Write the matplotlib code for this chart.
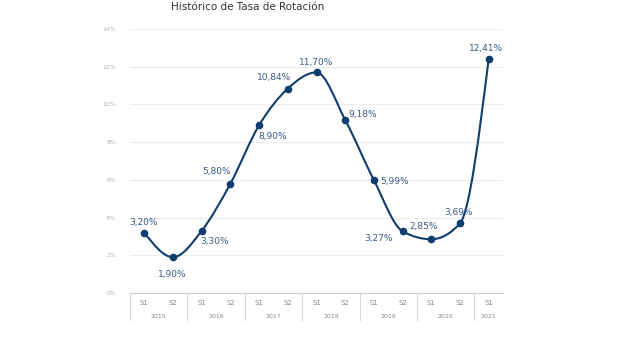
import matplotlib
matplotlib.use("Agg")
import matplotlib.pyplot as plt
import numpy as np
from matplotlib.path import Path
from matplotlib.patches import PathPatch
import matplotlib.transforms as mtransforms

# data
years = ["2015", "2016", "2017", "2018", "2019", "2020", "2021"]
periods = ["S1", "S2", "S1", "S2", "S1", "S2", "S1", "S2", "S1", "S2", "S1", "S2", "S1"]
rates = [3.20, 1.90, 3.30, 5.80, 8.90, 10.84, 11.70, 9.18, 5.99, 3.27, 2.85, 3.69, 12.41]
year_sizes = [2, 2, 2, 2, 2, 2, 1]

# label offsets in pixels (dx, dy)
offsets = [(-1, 10), (-1, -17), (13, -11), (-14, 12), (14, -11), (-14, 11),
           (0, 10), (17, 5), (21, -1), (-24, -7), (-8, 13), (-1, 11), (-3, 10)]

line_col = "#0f3d6e"
lab_col = "#3b5b85"

fig = plt.figure(figsize=(6.4, 3.38), dpi=100)
ax = fig.add_axes([130 / 640, 1 - 293 / 338, 373 / 640, 264 / 338])

x = np.arange(len(rates), dtype=float)
y = np.array(rates)

# monotone-x smoothing, like d3.curveMonotoneX
n = len(x)
h = np.diff(x)
s = np.diff(y) / h
tan = np.zeros(n)
for i in range(1, n - 1):
    s0, s1 = s[i - 1], s[i]
    p = (s0 * h[i] + s1 * h[i - 1]) / (h[i - 1] + h[i])
    tan[i] = (np.sign(s0) + np.sign(s1)) * min(abs(s0), abs(s1), 0.5 * abs(p))
tan[0] = (3 * s[0] - tan[1]) / 2
tan[-1] = (3 * s[-1] - tan[-2]) / 2

verts = [(x[0], y[0])]
codes = [Path.MOVETO]
for i in range(n - 1):
    dx = h[i] / 3
    verts += [(x[i] + dx, y[i] + dx * tan[i]), (x[i + 1] - dx, y[i + 1] - dx * tan[i + 1]),
              (x[i + 1], y[i + 1])]
    codes += [Path.CURVE4] * 3
ax.add_patch(PathPatch(Path(verts, codes), fill=False, edgecolor=line_col, lw=1.5, zorder=3))
ax.plot(x, y, "o", color=line_col, ms=4.5, zorder=4)

for xi, yi, (ddx, ddy) in zip(x, y, offsets):
    lab = ("%.2f" % yi).replace(".", ",") + "%"
    ax.annotate(lab, (xi, yi), xytext=(ddx, ddy), textcoords="offset pixels",
                ha="center", va="center", fontsize=6.5, color=lab_col)

ax.set_xlim(-0.5, 12.5)
ax.set_ylim(0, 14)
ax.set_yticks(np.arange(0, 15, 2))
ax.set_yticklabels([f"{v}%" for v in range(0, 15, 2)], fontsize=4.5, color="#b0b0b0")
ax.tick_params(axis="y", length=0, pad=10)
ax.set_xticks([])
ax.grid(axis="y", color="#ececec", lw=0.8)
ax.set_axisbelow(True)
for sp in ["top", "right", "left"]:
    ax.spines[sp].set_visible(False)
ax.spines["bottom"].set_color("#d0d0d0")
ax.spines["bottom"].set_linewidth(0.8)

trans = mtransforms.blended_transform_factory(ax.transData, ax.transAxes)
px = 1 / 264
for xi, p in zip(x, periods):
    ax.text(xi, -10 * px, p, transform=trans, ha="center", va="center",
            fontsize=5, color="#888888")
start = -0.5
ax.plot([start, start], [0, -27 * px], transform=trans, color="#d8d8d8", lw=0.8, clip_on=False)
for yr, k in zip(years, year_sizes):
    ax.text(start + k / 2, -23 * px, yr, transform=trans, ha="center", va="center",
            fontsize=4.5, color="#888888")
    start += k
    if start < 12.5:
        ax.plot([start, start], [0, -27 * px], transform=trans, color="#d8d8d8", lw=0.8, clip_on=False)

fig.text(248 / 640, 1 - 7 / 338, "Histórico de Tasa de Rotación", ha="center", va="center",
         fontsize=7.5, color="#333333")

fig.savefig("out.png", dpi=100)
